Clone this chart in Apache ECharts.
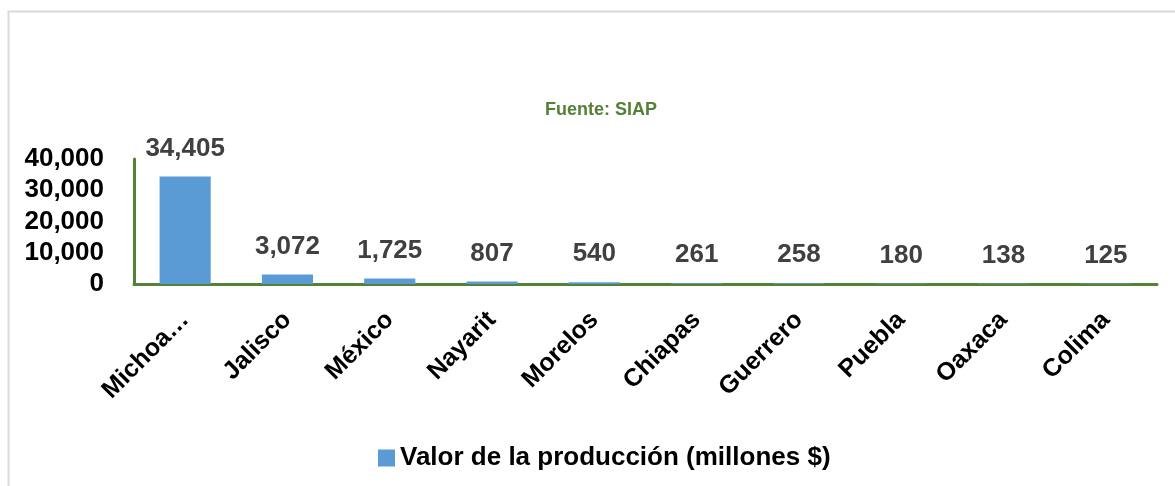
<!DOCTYPE html>
<html>
<head>
<meta charset="utf-8">
<script src="https://cdn.jsdelivr.net/npm/echarts@6/dist/echarts.min.js"></script>
<style>
  html, body { margin: 0; padding: 0; background: #fff; }
  #chart { width: 1175px; height: 486px; }
</style>
</head>
<body>
<div id="chart"></div>
<script>
const estados = ["Michoacán", "Jalisco", "México", "Nayarit", "Morelos", "Chiapas", "Guerrero", "Puebla", "Oaxaca", "Colima"];
const valores = [34405, 3072, 1725, 807, 540, 261, 258, 180, 138, 125];
const serieNombre = "Valor de la producción (millones $)";
const fuente = "Fuente: SIAP";

const FONT = '"Liberation Sans Narrow", "Arial Narrow", "Liberation Sans", sans-serif';

var myChart = echarts.init(document.getElementById("chart"));
var option = {
  animation: false,
  graphic: [
    {
      type: "rect",
      shape: { x: 8.5, y: 11.5, width: 1300, height: 600 },
      style: { fill: "none", stroke: "#d9d9d9", lineWidth: 2 },
      silent: true,
    },
  ],
  title: {
    text: fuente,
    left: 596,
    top: 96,
    textAlign: "center",
    textStyle: {
      fontFamily: FONT,
      fontSize: 18,
      fontWeight: "bold",
      color: "#538135",
    },
  },
  legend: {
    left: 373,
    top: 440,
    itemWidth: 17,
    itemHeight: 17,
    itemGap: 8,
    icon: "rect",
    textStyle: {
      fontFamily: FONT,
      fontSize: 26,
      fontWeight: "bold",
      color: "#000",
    },
  },
  grid: {
    left: 134,
    right: 18,
    top: 159,
    bottom: 202,
    containLabel: false,
  },
  xAxis: {
    type: "category",
    data: estados,
    axisLine: {
      lineStyle: { color: "#548235", width: 3 },
    },
    axisTick: { show: false },
    axisLabel: {
      interval: 0,
      rotate: 45,
      margin: 32,
      fontFamily: FONT,
      fontSize: 25,
      fontWeight: "bold",
      color: "#000",
      formatter: (v) => (v.length > 8 ? v.slice(0, 6) + "…" : v),
    },
  },
  yAxis: {
    type: "value",
    min: 0,
    max: 40000,
    interval: 10000,
    splitLine: { show: false },
    axisLine: {
      show: true,
      lineStyle: { color: "#548235", width: 3 },
    },
    axisLabel: {
      margin: 30,
      fontFamily: FONT,
      fontSize: 26,
      fontWeight: "bold",
      color: "#000",
      formatter: (v) => v.toLocaleString("en-US"),
    },
  },
  series: [
    {
      name: serieNombre,
      type: "bar",
      data: valores,
      barWidth: "50%",
      itemStyle: { color: "#5b9bd5" },
      label: {
        show: true,
        position: "top",
        distance: 15,
        fontFamily: FONT,
        fontSize: 26,
        fontWeight: "bold",
        color: "#404040",
        formatter: (p) => p.value.toLocaleString("en-US"),
      },
    },
  ],
};
myChart.setOption(option);
</script>
</body>
</html>
